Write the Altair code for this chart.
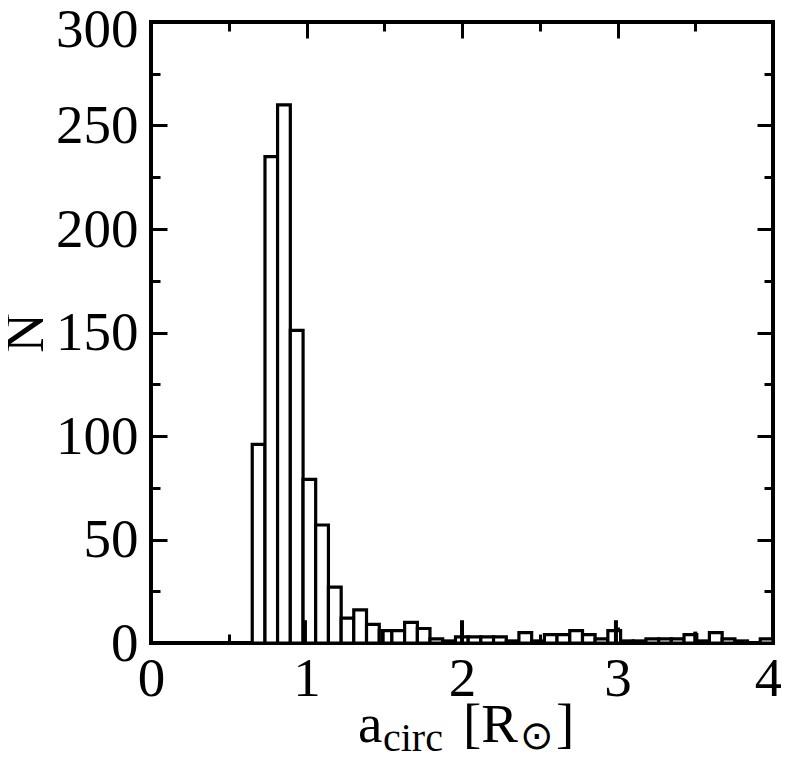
import altair as alt
import pandas as pd

# ---- data ----
bin_lo = [0.651, 0.733, 0.814, 0.896, 0.978, 1.059, 1.141, 1.223, 1.304, 1.386,
          1.468, 1.549, 1.631, 1.713, 1.794, 1.876, 1.958, 2.040, 2.121, 2.203,
          2.285, 2.366, 2.448, 2.530, 2.611, 2.693, 2.775, 2.856, 2.938, 3.020,
          3.101, 3.183, 3.265, 3.346, 3.428, 3.510, 3.591, 3.673, 3.755, 3.836,
          3.918]
bin_hi = [0.733, 0.814, 0.896, 0.978, 1.059, 1.141, 1.223, 1.304, 1.386, 1.468,
          1.549, 1.631, 1.713, 1.794, 1.876, 1.958, 2.040, 2.121, 2.203, 2.285,
          2.366, 2.448, 2.530, 2.611, 2.693, 2.775, 2.856, 2.938, 3.020, 3.101,
          3.183, 3.265, 3.346, 3.428, 3.510, 3.591, 3.673, 3.755, 3.836, 3.918,
          4.000]
counts = [96, 235, 260, 151, 79, 57, 27, 12, 16, 9,
          6, 6, 10, 7, 2, 1, 3, 3, 3, 3,
          1, 5, 1, 4, 4, 6, 4, 2, 6, 1,
          1, 2, 2, 2, 4, 1, 5, 2, 1, 0,
          2]
spike_x = [0.99, 1.49, 2.0, 2.99, 3.5]
spike_n = [11, 6, 11, 11, 5.5]

x_major = [0, 1, 2, 3, 4]
x_ticks = [0, 0.5, 1, 1.5, 2, 2.5, 3, 3.5, 4]
y_major = [0, 50, 100, 150, 200, 250, 300]
y_ticks = [0, 25, 50, 75, 100, 125, 150, 175, 200, 225, 250, 275, 300]

W, H = 622, 621
FONT = "Liberation Serif"
FS = 55
FSUB = 40

hist = pd.DataFrame({"lo": bin_lo, "hi": bin_hi, "n": counts})
spikes = pd.DataFrame({"x": spike_x, "n": spike_n})

xscale = alt.Scale(domain=[0, 4], nice=False, zero=False)
yscale = alt.Scale(domain=[0, 300], nice=False)

x_lab_axis = alt.Axis(orient="bottom", values=x_major, format="d", labelFont=FONT,
                      labelFontSize=FS, labelColor="black", labelPadding=9,
                      labelOffset={"condition": {"test": "datum.value === 4", "value": -5},
                                   "value": 0},
                      ticks=False, tickSize=0, domain=False, grid=False, title=None,
                      labelFlush=False, labelOverlap=False)
y_lab_axis = alt.Axis(orient="left", values=y_major, format="d", labelFont=FONT,
                      labelFontSize=FS, labelColor="black", labelPadding=13,
                      labelOffset={"condition": {"test": "datum.value === 300", "value": 7},
                                   "value": 0},
                      ticks=False, tickSize=0, domain=False, grid=False,
                      title="N", titleFont=FONT, titleFontSize=FS,
                      titleFontWeight="normal", titleColor="black", titlePadding=1,
                      labelFlush=False, labelOverlap=False)

xt_size = {"condition": {"test": "datum.value % 1 === 0", "value": 16}, "value": 9}
yt_size = {"condition": {"test": "datum.value % 50 === 0", "value": 16}, "value": 9}


def tick_axis(orient, values, size, offset):
    return alt.Axis(orient=orient, values=values, labels=False, domain=False,
                    grid=False, title=None, ticks=True, tickSize=size,
                    tickWidth=3, tickColor="black", offset=offset)


bars = alt.Chart(hist).mark_bar(fill="white", stroke="black", strokeWidth=3.2).encode(
    x=alt.X("lo:Q", scale=xscale, axis=x_lab_axis),
    x2="hi:Q",
    y=alt.Y("n:Q", scale=yscale, axis=y_lab_axis),
    y2=alt.datum(0),
)

spike = alt.Chart(spikes).mark_rule(color="black", strokeWidth=4).encode(
    x=alt.X("x:Q", scale=xscale, axis=tick_axis("top", x_ticks, xt_size, -H)),
    y=alt.Y("n:Q", scale=yscale, axis=tick_axis("right", y_ticks, yt_size, -W)),
    y2=alt.datum(0),
)

ghost = alt.Chart(spikes).mark_point(opacity=0).encode(
    x=alt.X("x:Q", scale=xscale, axis=tick_axis("bottom", x_ticks, xt_size, -H)),
    y=alt.Y("n:Q", scale=yscale, axis=tick_axis("left", y_ticks, yt_size, -W)),
)

one = alt.Data(values=[{"k": 1}])


def label(txt, x, y, size, align="left"):
    return alt.Chart(one).mark_text(text=txt, font=FONT, fontSize=size, color="black",
                                    align=align, baseline="alphabetic").encode(
        x=alt.value(x), y=alt.value(y))


t_a = label("a", 207, 720, FS)
t_circ = label("circ", 232, 729, FSUB)
t_R = label("[R", 312, 720, FS)
t_sun = label("\u2299", 386, 727, FSUB, align="center")
t_close = label("]", 405, 720, FS)

chart = alt.layer(bars, spike, ghost, t_a, t_circ, t_R, t_sun, t_close).resolve_axis(
    x="independent", y="independent"
).properties(
    width=W, height=H,
    autosize=alt.AutoSizeParams(type="none"),
    padding={"left": 143, "top": 14, "right": 8, "bottom": 114},
    background="white",
).configure_view(stroke="black", strokeWidth=4)

chart.save("out.html", embed_options={"renderer": "svg", "actions": False})
